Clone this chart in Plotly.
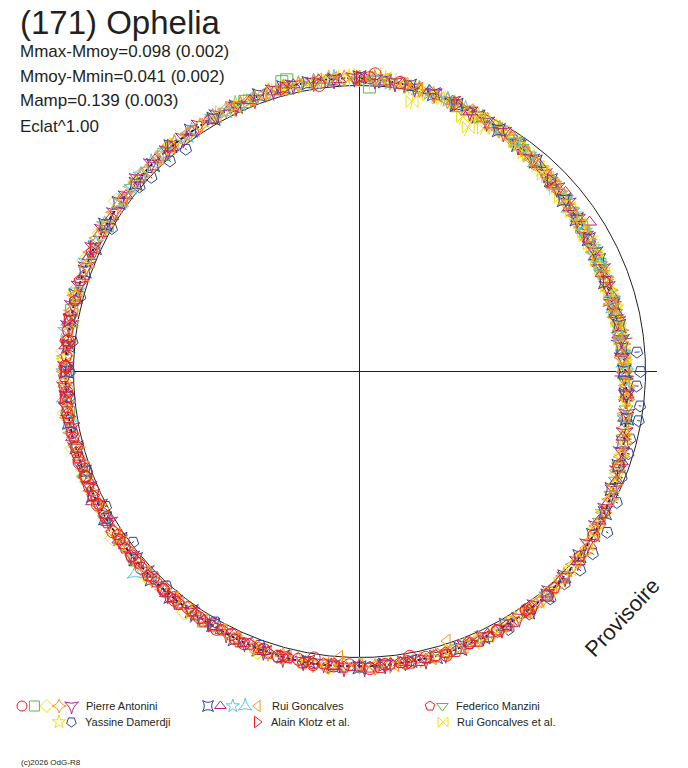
import numpy as np
import plotly.graph_objects as go

W, H = 688, 768
CX, CY, R = 359.5, 371.5, 286.0

RED = '#ed1c24'; GREEN = '#5cb848'; YELLOW = '#f2e205'; ORANGE = '#f7931e'
PURPLE = '#b1257c'; BLUE = '#2e4099'; CYAN = '#5cc4de'; INK = '#231f20'

TITLE = "(171) Ophelia"
INFO = ["Mmax-Mmoy=0.098 (0.002)", "Mmoy-Mmin=0.041 (0.002)", "Mamp=0.139 (0.003)", "Eclat^1.00"]

# fitted curve: phase (deg) and relative magnitude
FIT_PH = [0, 10, 20, 30, 40, 50, 60, 70, 80, 90, 100, 110, 120, 130, 140, 150, 160, 170,
          180, 190, 200, 210, 220, 230, 240, 250, 260, 270, 280, 290, 300, 310, 320, 330, 340, 350]
FIT_DM = [-0.027, -0.015, 0.006, 0.025, 0.050, 0.072, 0.087, 0.094, 0.092, 0.080, 0.060, 0.036,
          0.013, -0.007, -0.020, -0.026, -0.030, -0.032, -0.033, -0.036, -0.034, -0.028, -0.026,
          -0.025, -0.026, -0.027, -0.031, -0.030, -0.028, -0.027, -0.025, -0.026, -0.027, -0.025,
          -0.027, -0.029]

# Pierre Antonini
PA_CIRC_PH = [2, 3, 8, 352, 110, 125, 140, 145, 152, 158, 163, 167, 170, 171, 175, 178, 182, 185, 189, 189,
              192, 196, 199, 203, 206, 209, 213, 216, 219, 222, 225, 228, 231, 234, 237, 240, 243, 246,
              249, 252, 255, 258, 262, 266, 271, 276]
PA_CIRC_DM = [-0.030, -0.045, -0.022, -0.011, 0.040, 0.000, -0.025, -0.018, -0.030, -0.025, -0.040, -0.028,
              -0.012, -0.035, -0.030, -0.042, -0.028, -0.036, -0.040, -0.015, -0.031, -0.038, -0.030, -0.036,
              -0.025, -0.033, -0.029, -0.022, -0.031, -0.027, -0.020, -0.030, -0.026, -0.021, -0.031, -0.024,
              -0.030, -0.022, -0.028, -0.033, -0.026, -0.030, -0.035, -0.028, -0.032, -0.026]
PA_SQ_PH = [346, 2, 345, 20, 337, 318, 300, 282, 270, 262, 57, 66, 35, 230, 212]
PA_SQ_DM = [-0.054, 0.005, -0.052, 0.012, -0.028, -0.024, -0.020, -0.031, -0.024, -0.029, 0.083, 0.090,
            0.030, -0.027, -0.031]
PA_DIA_PH = [236, 242, 248, 255, 262, 268, 274, 280, 286, 292, 298, 305, 312, 226, 216, 200, 186, 320]
PA_DIA_DM = [-0.044, -0.025, -0.030, -0.040, -0.042, -0.036, -0.040, -0.022, -0.034, -0.039, -0.030,
             -0.041, -0.030, -0.036, -0.043, -0.046, -0.041, -0.034]
PA_ST4_PH = [0, 6, 12, 18, 24, 30, 36, 42, 48, 54, 60, 66, 72, 78, 84, 90, 96, 102, 108, 114, 120, 126,
             132, 138, 144, 150, 156, 162, 168, 174, 180, 186, 192, 198, 204, 210, 216, 222, 228, 234,
             240, 246, 252, 258, 264, 270, 276, 282, 288, 294, 300, 306, 312, 318, 324, 330, 336, 342,
             348, 354]
PA_ST4_DM = [-0.026, -0.020, -0.010, 0.004, 0.014, 0.027, 0.040, 0.055, 0.066, 0.080, 0.086, 0.095, 0.090,
             0.097, 0.085, 0.082, 0.068, 0.058, 0.041, 0.026, 0.015, -0.002, -0.008, -0.020, -0.022,
             -0.028, -0.026, -0.033, -0.030, -0.034, -0.031, -0.037, -0.033, -0.037, -0.030, -0.030,
             -0.024, -0.028, -0.022, -0.027, -0.023, -0.029, -0.025, -0.033, -0.029, -0.034, -0.026,
             -0.030, -0.024, -0.030, -0.023, -0.028, -0.024, -0.030, -0.024, -0.028, -0.023, -0.030,
             -0.026, -0.032]
PA_ST4B_PH = [3, 9, 15, 21, 27, 33, 39, 45, 51, 57, 63, 69, 75, 81, 87, 93, 99, 105, 111, 117, 123, 129,
              135, 141, 147, 153, 159, 165, 171, 177, 183, 189, 195, 201, 207, 213, 219, 225, 231, 237,
              243, 249, 255, 261, 267, 273, 279, 285, 291, 297, 303, 309, 315, 321, 327, 333, 339, 345,
              351, 357]
PA_ST4B_DM = [-0.030, -0.014, -0.002, 0.012, 0.016, 0.034, 0.050, 0.058, 0.078, 0.082, 0.092, 0.088, 0.100,
              0.086, 0.090, 0.072, 0.066, 0.046, 0.038, 0.018, 0.010, -0.010, -0.012, -0.024, -0.022,
              -0.031, -0.027, -0.034, -0.029, -0.037, -0.030, -0.039, -0.032, -0.038, -0.027, -0.031,
              -0.023, -0.030, -0.021, -0.029, -0.026, -0.030, -0.024, -0.035, -0.028, -0.033, -0.025,
              -0.031, -0.023, -0.031, -0.025, -0.029, -0.022, -0.031, -0.025, -0.030, -0.024, -0.031,
              -0.025, -0.029]
PA_PUR_PH = [3, 11, 19, 27, 35, 43, 51, 59, 67, 75, 83, 91, 99, 107, 115, 123, 131, 139, 147, 155, 163,
             171, 179, 187, 195, 203, 211, 219, 227, 235, 243, 251, 259, 267, 275, 283, 291, 299, 307,
             315, 323, 331, 339, 347, 355]
PA_PUR_DM = [-0.024, -0.012, 0.000, 0.022, 0.038, 0.060, 0.070, 0.090, 0.088, 0.098, 0.088, 0.084, 0.060,
             0.046, 0.022, 0.012, -0.012, -0.016, -0.028, -0.024, -0.034, -0.028, -0.036, -0.030, -0.039,
             -0.031, -0.026, -0.030, -0.022, -0.028, -0.022, -0.031, -0.027, -0.033, -0.025, -0.031,
             -0.024, -0.029, -0.023, -0.030, -0.024, -0.029, -0.022, -0.031, -0.027]
PA_PUR_ERR = [0.005, 0.005, 0.005, 0.005, 0.005, 0.008, 0.008, 0.010, 0.012, 0.040, 0.045, 0.040, 0.010,
              0.008, 0.005, 0.005, 0.005, 0.005, 0.005, 0.005, 0.005, 0.005, 0.005, 0.005, 0.005, 0.005,
              0.005, 0.005, 0.005, 0.005, 0.005, 0.005, 0.005, 0.005, 0.005, 0.005, 0.005, 0.005, 0.005,
              0.005, 0.005, 0.005, 0.005, 0.005, 0.005]
PA_PURB_PH = [7, 15, 23, 31, 39, 47, 55, 63, 71, 79, 87, 95, 103, 111, 119, 127, 135, 143, 151, 159, 167,
              175, 183, 191, 199, 207, 215, 223, 231, 239, 247, 255, 263, 271, 279, 287, 295, 303, 311,
              319, 327, 335, 343, 351, 359]
PA_PURB_DM = [-0.020, -0.006, 0.014, 0.026, 0.048, 0.064, 0.080, 0.086, 0.096, 0.092, 0.090, 0.070, 0.054,
              0.036, 0.016, 0.000, -0.018, -0.022, -0.030, -0.026, -0.036, -0.030, -0.038, -0.034, -0.035,
              -0.029, -0.028, -0.025, -0.027, -0.022, -0.030, -0.029, -0.035, -0.029, -0.031, -0.026,
              -0.030, -0.022, -0.031, -0.025, -0.030, -0.023, -0.032, -0.026, -0.030]

# Yassine Damerdji
YD_STAR_PH = [60, 68, 76, 84, 92, 100, 108, 116, 124, 130, 136, 142, 148, 154, 160, 166, 45, 50, 38, 30,
              345, 320, 300, 272, 250]
YD_STAR_DM = [0.080, 0.092, 0.088, 0.094, 0.076, 0.064, 0.040, 0.022, 0.006, -0.010, -0.016, -0.023,
              -0.024, -0.030, -0.028, -0.034, 0.060, 0.066, 0.046, 0.020, -0.030, -0.028, -0.026, -0.036,
              -0.030]
YD_STARB_PH = [56, 64, 72, 80, 88, 96, 104, 112, 120, 127, 133, 139, 145, 151, 157, 163, 35, 42, 25, 190,
               215, 235, 285, 310, 335]
YD_STARB_DM = [0.078, 0.090, 0.096, 0.090, 0.082, 0.070, 0.050, 0.032, 0.014, -0.004, -0.012, -0.020,
               -0.026, -0.024, -0.032, -0.028, 0.036, 0.054, 0.016, -0.038, -0.030, -0.026, -0.030, -0.024,
               -0.028]
YD_PENT_PH = [86, 90, 93, 97, 100, 104, 107, 112, 117, 123, 128, 132, 136, 140, 145, 150, 300, 310, 313,
              318, 322, 285, 276, 270, 265, 258, 200, 210, 222, 233, 242, 250]
YD_PENT_DM = [0.030, 0.019, 0.033, 0.013, 0.010, 0.027, 0.019, 0.013, -0.010, -0.035, -0.037, -0.040,
              -0.034, -0.040, -0.037, -0.044, 0.000, -0.005, 0.005, 0.010, 0.015, -0.012, -0.010, -0.015,
              -0.020, -0.028, -0.020, -0.012, -0.010, 0.009, -0.005, -0.015]
YD_PENT_ERR = [0.010, 0.030, 0.008, 0.005, 0.005, 0.005, 0.005, 0.005, 0.005, 0.005, 0.005, 0.005, 0.005,
               0.005, 0.005, 0.005, 0.005, 0.005, 0.005, 0.005, 0.005, 0.005, 0.005, 0.005, 0.005, 0.005,
               0.005, 0.005, 0.005, 0.005, 0.005, 0.005]

# Rui Goncalves
RG_XSQ_PH = [5, 15, 25, 35, 45, 55, 65, 75, 85, 95, 105, 115, 125, 135, 145, 155, 165, 175, 185, 195,
             205, 215, 225, 235, 245, 255, 265, 275, 285, 295, 305, 315, 325, 335, 345, 355]
RG_XSQ_DM = [-0.020, -0.004, 0.018, 0.036, 0.060, 0.082, 0.086, 0.092, 0.090, 0.074, 0.052, 0.030, 0.004,
             -0.014, -0.030, -0.027, -0.036, -0.031, -0.038, -0.034, -0.035, -0.025, -0.030, -0.022,
             -0.030, -0.026, -0.034, -0.024, -0.030, -0.022, -0.030, -0.022, -0.030, -0.023, -0.031,
             -0.025]
RG_XSQB_PH = [0, 10, 20, 30, 40, 50, 60, 70, 80, 90, 100, 110, 120, 130, 140, 150, 160, 170, 180, 190,
              200, 210, 220, 230, 240, 250, 260, 270, 280, 290, 300, 310, 320, 330, 340, 350]
RG_XSQB_DM = [-0.031, -0.016, 0.008, 0.028, 0.046, 0.076, 0.084, 0.098, 0.088, 0.084, 0.056, 0.040, 0.010,
              -0.004, -0.024, -0.024, -0.034, -0.029, -0.037, -0.032, -0.037, -0.025, -0.030, -0.022,
              -0.029, -0.024, -0.034, -0.027, -0.031, -0.024, -0.029, -0.023, -0.030, -0.022, -0.030,
              -0.026]
RG_TRI_PH = [1, 10, 19, 28, 33, 37, 46, 49, 55, 57, 64, 73, 82, 91, 100, 109, 118, 127, 136, 145, 154, 163,
             172, 181, 190, 199, 208, 217, 226, 235, 244, 253, 262, 271, 280, 289, 298, 307, 316, 325,
             334, 343, 352]
RG_TRI_DM = [-0.028, -0.014, 0.000, 0.026, 0.020, 0.040, 0.068, 0.050, 0.076, 0.045, 0.094, 0.090, 0.096,
             0.076, 0.066, 0.034, 0.020, -0.010, -0.013, -0.027, -0.023, -0.034, -0.030, -0.037, -0.032,
             -0.038, -0.027, -0.031, -0.022, -0.029, -0.041, -0.026, -0.033, -0.027, -0.033, -0.025,
             -0.030, -0.024, -0.031, -0.023, -0.030, -0.024, -0.031]
RG_TRIB_PH = [5, 14, 23, 41, 52, 60, 68, 77, 86, 95, 104, 113, 122, 131, 140, 149, 158, 167, 176, 185, 194,
              203, 212, 221, 230, 239, 248, 257, 266, 275, 284, 293, 302, 311, 320, 329, 338, 347, 356]
RG_TRIB_DM = [-0.018, -0.013, 0.015, 0.046, 0.077, 0.083, 0.097, 0.090, 0.092, 0.068, 0.057, 0.026, 0.014,
              -0.014, -0.017, -0.031, -0.027, -0.035, -0.030, -0.038, -0.033, -0.036, -0.027, -0.031,
              -0.023, -0.028, -0.023, -0.032, -0.028, -0.033, -0.025, -0.030, -0.023, -0.028, -0.024,
              -0.028, -0.023, -0.031, -0.025]
RG_STAR_PH = [300, 306, 312, 318, 324, 330, 336, 342, 348, 354, 0, 6, 14, 22, 30, 38, 46, 54, 62, 70, 78,
              86, 94, 270, 278, 286, 292, 226, 214, 160, 120]
RG_STAR_DM = [-0.032, -0.022, -0.030, -0.026, -0.020, -0.030, -0.026, -0.022, -0.030, -0.025, -0.022,
              -0.018, -0.006, 0.010, 0.022, 0.042, 0.063, 0.075, 0.086, 0.094, 0.093, 0.085, 0.070,
              -0.036, -0.040, -0.028, -0.034, -0.020, -0.033, -0.028, 0.018]
RG_STARB_PH = [3, 18, 34, 50, 58, 66, 74, 82, 90, 100, 140, 180, 240, 260, 296, 309, 321, 333, 339, 351]
RG_STARB_DM = [-0.026, 0.000, 0.030, 0.070, 0.082, 0.092, 0.090, 0.096, 0.078, 0.062, -0.020, -0.030,
               -0.029, -0.031, -0.028, -0.026, -0.030, -0.024, -0.030, -0.028]
RG_STAR2_PH = [305, 315, 325, 335, 345, 355, 12, 26, 40, 52, 64, 76, 88, 280, 265, 250, 228]
RG_STAR2_DM = [-0.028, -0.032, -0.026, -0.030, -0.024, -0.029, -0.008, 0.018, 0.048, 0.078, 0.088, 0.095,
               0.084, -0.034, -0.038, -0.024, -0.058]
RG_TRIL_PH = [2, 9, 16, 23, 30, 37, 44, 51, 58, 65, 72, 79, 86, 93, 100, 107, 114, 121, 128, 135, 142, 149,
              156, 162, 163, 170, 177, 184, 184, 191, 198, 205, 212, 219, 226, 233, 240, 247, 254, 261,
              268, 275, 282, 289, 296, 303, 310, 317, 324, 331, 338, 345, 352, 359]
RG_TRIL_DM = [-0.028, -0.018, -0.004, 0.010, 0.024, 0.042, 0.056, 0.074, 0.084, 0.090, 0.098, 0.090, 0.088,
              0.074, 0.062, 0.042, 0.028, 0.010, -0.004, -0.018, -0.020, -0.030, -0.026, 0.010, -0.032,
              -0.030, -0.036, -0.031, -0.002, -0.038, -0.034, -0.030, -0.028, -0.024, -0.028, -0.022,
              -0.028, -0.025, -0.031, -0.029, -0.033, -0.027, -0.030, -0.025, -0.029, -0.024, -0.029,
              -0.023, -0.030, -0.022, -0.029, -0.025, -0.031, -0.025]
RG_TRILB_PH = [5, 12, 19, 26, 33, 40, 47, 54, 61, 68, 75, 82, 89, 96, 103, 110, 117, 124, 131, 138, 145,
               152, 159, 166, 173, 180, 187, 194, 201, 208, 215, 222, 229, 236, 243, 250, 257, 264, 271,
               278, 285, 292, 299, 306, 313, 320, 327, 334, 341, 348, 355]
RG_TRILB_DM = [-0.024, -0.008, 0.006, 0.020, 0.030, 0.052, 0.062, 0.082, 0.086, 0.096, 0.090, 0.096, 0.080,
               0.070, 0.050, 0.040, 0.016, 0.006, -0.012, -0.016, -0.026, -0.024, -0.032, -0.028, -0.035,
               -0.029, -0.038, -0.032, -0.036, -0.026, -0.030, -0.023, -0.029, -0.023, -0.030, -0.024,
               -0.032, -0.028, -0.034, -0.026, -0.031, -0.024, -0.030, -0.023, -0.030, -0.024, -0.029,
               -0.023, -0.030, -0.025, -0.031]

# Federico Manzini
FM_PENT_PH = [130, 138, 144, 150, 154, 158, 161, 165, 168, 172, 176, 180, 183, 187, 191, 194, 198, 202, 205,
              208, 212, 215, 218, 222, 226, 229, 233, 236, 239, 243, 247, 251, 254, 257, 261, 265, 269,
              273, 278, 284]
FM_PENT_DM = [-0.006, -0.020, -0.026, -0.030, -0.034, -0.028, -0.038, -0.031, -0.036, -0.030, -0.040,
              -0.033, -0.038, -0.032, -0.041, -0.034, -0.038, -0.031, -0.035, -0.026, -0.032, -0.024,
              -0.030, -0.026, -0.031, -0.023, -0.028, -0.021, -0.030, -0.024, -0.031, -0.026, -0.032,
              -0.027, -0.034, -0.029, -0.035, -0.028, -0.032, -0.027]
FM_PENTB_PH = [152, 156, 163, 170, 174, 178, 185, 189, 196, 200, 204, 210, 214, 220, 224, 231, 235, 241,
               245, 249, 253, 259, 263, 267, 271, 276, 281, 288, 294]
FM_PENTB_DM = [-0.026, -0.035, -0.030, -0.038, -0.031, -0.037, -0.029, -0.036, -0.041, -0.030, -0.038,
               -0.030, -0.026, -0.033, -0.025, -0.030, -0.026, -0.025, -0.032, -0.027, -0.030, -0.030,
               -0.032, -0.036, -0.030, -0.034, -0.029, -0.030, -0.027]
FM_TRI_PH = [30, 36, 42, 48, 53, 58, 63, 68, 74, 80, 86, 92, 98, 104, 110, 116, 255, 330, 205,
             33, 45, 56, 66, 77, 83, 89, 95, 101, 107, 113, 122]
FM_TRI_DM = [0.026, 0.036, 0.052, 0.072, 0.075, 0.092, 0.086, 0.098, 0.090, 0.096, 0.086, 0.080, 0.066,
             0.052, 0.040, 0.022, -0.032, -0.027, -0.030,
             0.030, 0.060, 0.078, 0.092, 0.092, 0.088, 0.082, 0.072, 0.058, 0.044, 0.030, 0.012]

# Alain Klotz et al.
AK_PH = [0, 20, 45, 70, 95, 120, 145, 170, 195, 220, 245, 265, 270, 275, 280, 295, 320, 345]
AK_DM = [-0.030, 0.004, 0.062, 0.092, 0.070, 0.010, -0.024, -0.034, -0.034, -0.030, -0.026, -0.042, -0.036,
         -0.030, -0.040, -0.028, -0.030, -0.026]

# Rui Goncalves et al.
RGE_PH = [330, 335, 340, 343, 347, 350, 353, 356, 359, 2, 5, 8, 11, 11, 14, 17, 20, 22, 23, 24, 26, 27, 29,
          32, 35, 38, 41, 44, 47, 50, 53, 56, 59, 62, 65, 68, 71, 74, 77, 80, 83, 86, 89,
          31, 34, 37, 40, 43, 46, 49, 52, 55, 58, 61, 64, 67, 70, 73, 76, 79, 82, 85, 88, 92, 95,
          332, 338, 345, 352, 358, 4, 7, 10, 13, 16, 19, 25, 28]
RGE_DM = [-0.026, -0.030, -0.024, -0.034, -0.028, -0.022, -0.032, -0.026, -0.034, -0.024, -0.032, -0.020,
          -0.012, 0.042, 0.004, 0.002, 0.010, 0.042, 0.014, 0.073, 0.018, 0.050, 0.030, 0.028, 0.040, 0.045,
          0.054, 0.060, 0.070, 0.072, 0.082, 0.080, 0.090, 0.088, 0.096, 0.090, 0.098, 0.092, 0.096, 0.088,
          0.094, 0.082, 0.084,
          0.022, 0.034, 0.048, 0.050, 0.064, 0.066, 0.078, 0.076, 0.086, 0.086, 0.092, 0.090, 0.094, 0.092,
          0.096, 0.090, 0.094, 0.088, 0.090, 0.080, 0.076, 0.070,
          -0.030, -0.028, -0.024, -0.028, -0.028, -0.028, -0.024, -0.016, -0.006, 0.006, 0.004, 0.020, 0.024]
RGE_ERR = [0.015, 0.020, 0.015, 0.025, 0.020, 0.030, 0.020, 0.035, 0.030, 0.040, 0.030, 0.030, 0.025, 0.030,
           0.020, 0.030, 0.020, 0.035, 0.020, 0.040, 0.020, 0.030, 0.015, 0.020, 0.015, 0.020, 0.015, 0.020,
           0.015, 0.020, 0.015, 0.020, 0.015, 0.015, 0.020, 0.015, 0.015, 0.020, 0.015, 0.015, 0.020, 0.015,
           0.015,
           0.020, 0.015, 0.020, 0.015, 0.020, 0.015, 0.020, 0.015, 0.020, 0.015, 0.020, 0.015, 0.015, 0.020,
           0.015, 0.015, 0.020, 0.015, 0.015, 0.020, 0.015, 0.015,
           0.020, 0.015, 0.025, 0.030, 0.035, 0.040, 0.030, 0.025, 0.020, 0.020, 0.030, 0.020, 0.020]

SERIES = [
    (RGE_PH, RGE_DM, RGE_ERR, 'bowtie-open', YELLOW, 0),
    (YD_STAR_PH, YD_STAR_DM, None, 'star-open', YELLOW, 0),
    (PA_DIA_PH, PA_DIA_DM, None, 'diamond-open', YELLOW, 0),
    (PA_SQ_PH, PA_SQ_DM, None, 'square-open', GREEN, 0),
    (FM_TRI_PH, FM_TRI_DM, None, 'triangle-down-open', GREEN, 0),
    (RG_STAR_PH, RG_STAR_DM, None, 'star-open', CYAN, 0),
    (RG_STAR2_PH, RG_STAR2_DM, None, 'star-triangle-up-open', CYAN, 0),
    (RG_XSQ_PH, RG_XSQ_DM, None, 'star-square-open', BLUE, 0),
    (YD_PENT_PH, YD_PENT_DM, YD_PENT_ERR, 'pentagon-open', BLUE, 180),
    (PA_PUR_PH, PA_PUR_DM, PA_PUR_ERR, 'star-triangle-down-open', PURPLE, 0),
    (RG_TRI_PH, RG_TRI_DM, None, 'triangle-up-open', PURPLE, 0),
    (PA_ST4_PH, PA_ST4_DM, None, 'star-diamond-open', ORANGE, 0),
    (RG_TRIL_PH, RG_TRIL_DM, None, 'triangle-left-open', ORANGE, 0),
    (YD_STARB_PH, YD_STARB_DM, None, 'star-open', YELLOW, 0),
    (RG_STARB_PH, RG_STARB_DM, None, 'star-open', CYAN, 0),
    (RG_XSQB_PH, RG_XSQB_DM, None, 'star-square-open', BLUE, 0),
    (PA_PURB_PH, PA_PURB_DM, None, 'star-triangle-down-open', PURPLE, 0),
    (RG_TRIB_PH, RG_TRIB_DM, None, 'triangle-up-open', PURPLE, 0),
    (PA_ST4B_PH, PA_ST4B_DM, None, 'star-diamond-open', ORANGE, 0),
    (RG_TRILB_PH, RG_TRILB_DM, None, 'triangle-left-open', ORANGE, 0),
    (AK_PH, AK_DM, None, 'triangle-right-open', RED, 0),
    (FM_PENT_PH, FM_PENT_DM, None, 'pentagon-open', RED, 0),
    (FM_PENTB_PH, FM_PENTB_DM, None, 'pentagon-open', RED, 0),
    (PA_CIRC_PH, PA_CIRC_DM, None, 'circle-open', RED, 0),
]

LEGEND_ROWS = [
    ([('circle-open', RED, 0), ('square-open', GREEN, 0), ('diamond-open', YELLOW, 0),
      ('star-diamond-open', ORANGE, 0), ('star-triangle-down-open', PURPLE, 0)], 22, 706, "Pierre Antonini"),
    ([('star-open', YELLOW, 0), ('pentagon-open', BLUE, 180)], 59, 722, "Yassine Damerdji"),
    ([('star-square-open', BLUE, 0), ('triangle-up-open', PURPLE, 0), ('star-open', CYAN, 0),
      ('star-triangle-up-open', CYAN, 0), ('triangle-left-open', ORANGE, 0)], 208, 706, "Rui Goncalves"),
    ([('triangle-right-open', RED, 0)], 257, 722, "Alain Klotz et al."),
    ([('pentagon-open', RED, 0), ('triangle-down-open', GREEN, 0)], 430, 706, "Federico Manzini"),
    ([('bowtie-open', YELLOW, 0)], 443, 722, "Rui Goncalves et al."),
]
LEGEND_STEP = 12.4


def to_xy(ph, dm):
    t = np.radians(np.asarray(ph, dtype=float))
    r = 10 ** (-0.4 * np.asarray(dm, dtype=float))
    return r * np.sin(t), r * np.cos(t)


fig = go.Figure()

# reference circle (mean magnitude)
tt = np.linspace(0, 2 * np.pi, 721)
fig.add_trace(go.Scatter(x=np.sin(tt), y=np.cos(tt), mode='lines',
                         line=dict(color=INK, width=1), hoverinfo='skip'))

# fitted curve (under the open markers)
fx, fy = to_xy(FIT_PH + FIT_PH[:1], FIT_DM + FIT_DM[:1])
fig.add_trace(go.Scatter(x=fx, y=fy, mode='lines',
                         line=dict(color=INK, width=2, dash='4px,2px', shape='spline')))

for ph, dm, err, sym, col, ang in SERIES:
    if err is not None:
        t = np.radians(np.asarray(ph, float))
        d = np.asarray(dm, float); e = np.asarray(err, float)
        r1 = 10 ** (-0.4 * (d - e)); r2 = 10 ** (-0.4 * (d + e))
        ex, ey = [], []
        for a, b, c in zip(t, r1, r2):
            ex += [b * np.sin(a), c * np.sin(a), None]
            ey += [b * np.cos(a), c * np.cos(a), None]
        fig.add_trace(go.Scatter(x=ex, y=ey, mode='lines', line=dict(color=col, width=1),
                                 hoverinfo='skip'))
    x, y = to_xy(ph, dm)
    fig.add_trace(go.Scatter(x=x, y=y, mode='markers',
                             marker=dict(symbol=sym, size=12, color=col, angle=ang,
                                         line=dict(color=col, width=1))))

# legend glyphs on a pixel overlay axis
for glyphs, x0, y0, label in LEGEND_ROWS:
    for i, (sym, col, ang) in enumerate(glyphs):
        fig.add_trace(go.Scatter(x=[x0 + i * LEGEND_STEP], y=[y0], mode='markers', xaxis='x2', yaxis='y2',
                                 marker=dict(symbol=sym, size=10, color=col, angle=ang,
                                             line=dict(color=col, width=1))))

xr = [(0 - CX) / R, (W - CX) / R]
yr = [(CY - H) / R, CY / R]
ax = dict(visible=False, showgrid=False, zeroline=False, fixedrange=True)

shapes = [
    dict(type='line', xref='x', yref='y', x0=0, x1=0, y0=-1.037, y1=1.037, line=dict(color=INK, width=1),
         layer='below'),
    dict(type='line', xref='x', yref='y', x0=-1.0, x1=1.04, y0=0, y1=0, line=dict(color=INK, width=1),
         layer='below'),
]

ann = [dict(text=TITLE, x=18 / W, y=1 - 23 / H, xref='paper', yref='paper', xanchor='left',
            yanchor='middle', showarrow=False, font=dict(family='Liberation Sans', size=33, color=INK))]
for i, s in enumerate(INFO):
    ann.append(dict(text=s, x=18 / W, y=1 - (51 + 25 * i) / H, xref='paper', yref='paper',
                    xanchor='left', yanchor='middle', showarrow=False,
                    font=dict(family='Liberation Sans', size=17, color=INK)))
for glyphs, x0, y0, label in LEGEND_ROWS:
    tx = x0 + (len(glyphs) - 1) * LEGEND_STEP + 12
    ann.append(dict(text=label, x=tx / W, y=1 - y0 / H, xref='paper', yref='paper', xanchor='left',
                    yanchor='middle', showarrow=False,
                    font=dict(family='Liberation Sans', size=11, color=INK)))
ann.append(dict(text="(c)2026 OdG-R8", x=19 / W, y=1 - 762 / H, xref='paper', yref='paper',
                xanchor='left', yanchor='middle', showarrow=False,
                font=dict(family='Liberation Sans', size=8, color=INK)))
ann.append(dict(text="Provisoire", x=622 / W, y=1 - 617 / H, xref='paper', yref='paper',
                xanchor='center', yanchor='middle', showarrow=False, textangle=-47,
                font=dict(family='Liberation Sans', size=22, color=INK)))

fig.update_layout(
    width=W, height=H, margin=dict(l=0, r=0, t=0, b=0), autosize=False,
    paper_bgcolor='white', plot_bgcolor='white', showlegend=False,
    xaxis=dict(range=xr, domain=[0, 1], **ax),
    yaxis=dict(range=yr, domain=[0, 1], **ax),
    xaxis2=dict(range=[0, W], domain=[0, 1], overlaying='x', anchor='y2', **ax),
    yaxis2=dict(range=[H, 0], domain=[0, 1], overlaying='y', anchor='x2', **ax),
    shapes=shapes, annotations=ann, hovermode=False,
)

fig.write_html("out.html", config={'displayModeBar': False, 'staticPlot': True},
               post_script="document.body.style.margin='0';document.body.style.overflow='hidden';")
